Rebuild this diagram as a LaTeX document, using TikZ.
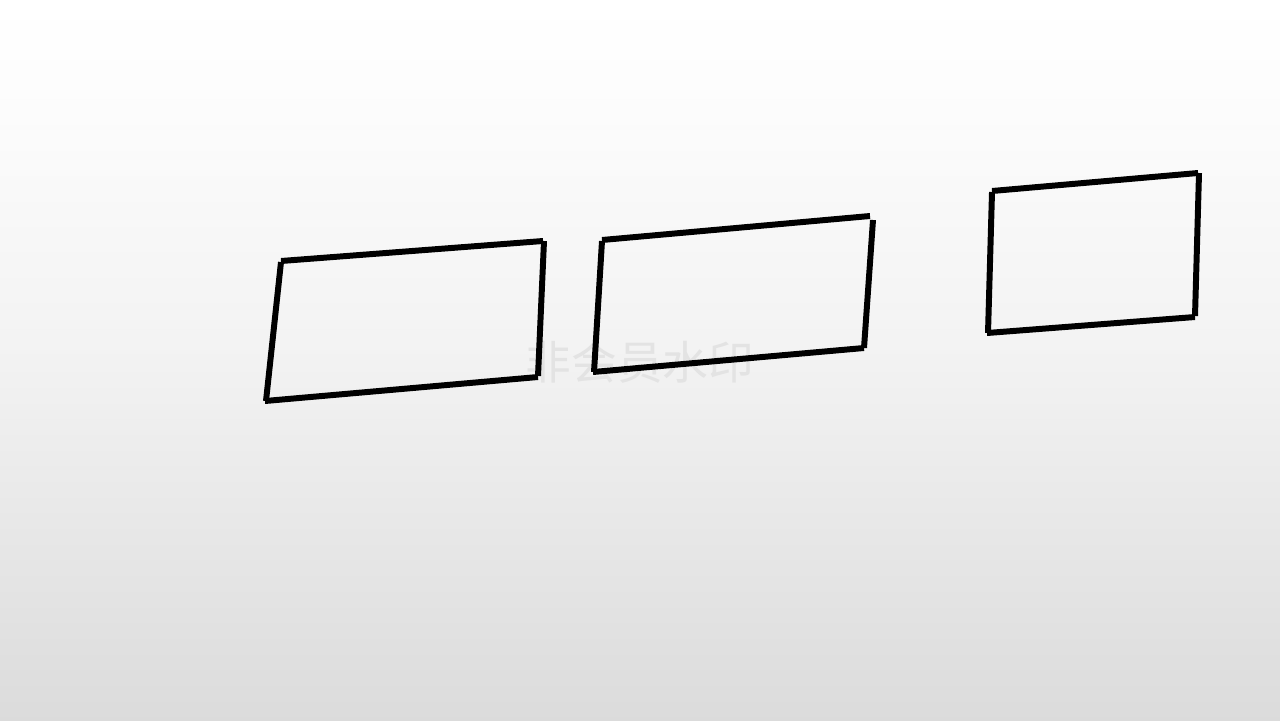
\documentclass[tikz,border=0pt]{standalone}
\usepackage{fontspec}
\newfontfamily\cjk{Noto Sans CJK SC}
\usepackage{tikz}
\pgfdeclareverticalshading{backfade}{100bp}{color(0bp)=(black!14); color(25bp)=(black!14); color(50bp)=(black!5); color(68bp)=(black!1); color(75bp)=(white); color(100bp)=(white)}

\begin{document}
\begin{tikzpicture}[x=0.02cm, y=-0.02cm, rim/.style={line width=3.4pt, line cap=butt}]
        \shade[shading=backfade] (0,0) rectangle (1280,720);
        \useasboundingbox (0,0) rectangle (1280,720);
        \node[text=black!11, font=\cjk\fontsize{26}{30}\selectfont] (W) at (640,362) {非会员水印};
        % first box
        \coordinate (A1) at (281,261);
        \coordinate (A2) at (543,241);
        \coordinate (A3) at (538,377);
        \coordinate (A4) at (266,401);
        \draw[rim] (A1) -- (A2);
        \draw[rim] ([xshift=0.02cm]A2) -- ([yshift=0.02cm]A3);
        \draw[rim] (A3) -- ([xshift=-0.02cm]A4);
        \draw[rim] (A4) -- ([yshift=-0.02cm]A1);
        % second box
        \coordinate (B1) at (602,240);
        \coordinate (B2) at (870,216);
        \coordinate (B3) at (864,348);
        \coordinate (B4) at (594,372);
        \draw[rim] (B1) -- (B2);
        \draw[rim] ([xshift=0.06cm,yshift=-0.08cm]B2) -- (B3);
        \draw[rim] (B3) -- ([xshift=-0.02cm]B4);
        \draw[rim] (B4) -- ([yshift=-0.02cm]B1);
        % third box
        \coordinate (C1) at (992,191);
        \coordinate (C2) at (1198,173);
        \coordinate (C3) at (1195,317);
        \coordinate (C4) at (988,333);
        \draw[rim] (C1) -- (C2);
        \draw[rim] ([xshift=0.02cm]C2) -- ([yshift=0.02cm]C3);
        \draw[rim] (C3) -- ([xshift=-0.02cm]C4);
        \draw[rim] (C4) -- ([yshift=-0.02cm]C1);
    \end{tikzpicture}
\end{document}
